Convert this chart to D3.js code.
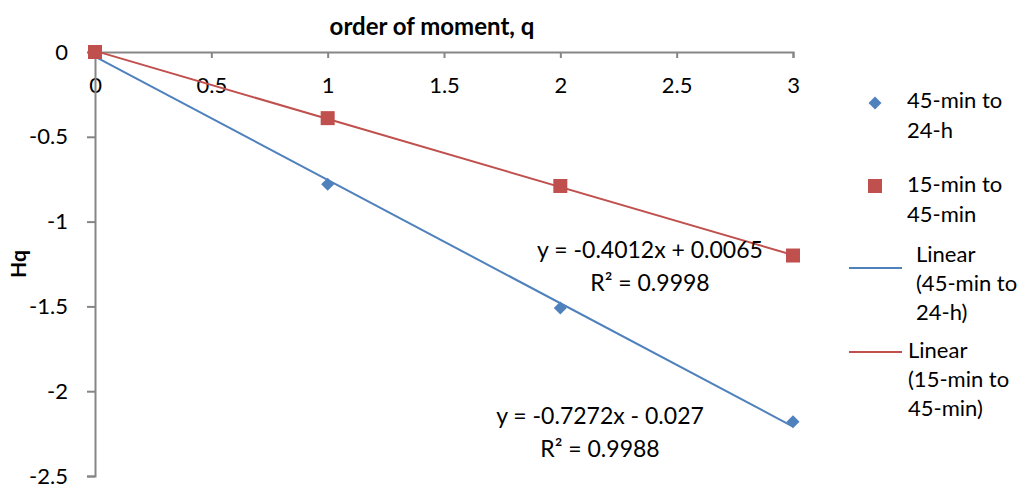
<!DOCTYPE html>
<html>
<head>
<meta charset="utf-8">
<script src="https://cdn.jsdelivr.net/npm/d3@7"></script>
<style>
  body { margin: 0; background: #fff; }
  svg { font-family: "Lato", "Open Sans", sans-serif; }
</style>
</head>
<body>
<svg id="chart"></svg>
<script>
const width = 1021;
const height = 484;

// data
const qValues = [0, 1, 2, 3];
const hq45to24 = [0, -0.78, -1.51, -2.18];
const hq15to45 = [0, -0.39, -0.79, -1.2];
const fit45to24 = { slope: -0.7272, intercept: -0.027, r2: "0.9988" };
const fit15to45 = { slope: -0.4012, intercept: 0.0065, r2: "0.9998" };
const xTicks = [0, 0.5, 1, 1.5, 2, 2.5, 3];
const yTicks = [0, -0.5, -1, -1.5, -2, -2.5];

const blue = "#4F81BD";
const red = "#C0504D";
const axisColor = "#868686";

const svg = d3.select("#chart").attr("width", width).attr("height", height);

const x = d3.scaleLinear().domain([0, 3]).range([95, 793]);
const y = d3.scaleLinear().domain([-2.5, 0]).range([476, 52]);

// x axis (sits at y = 0, ticks point down)
const xAxis = svg.append("g")
  .attr("transform", `translate(0, ${y(0)})`)
  .call(d3.axisBottom(x).tickValues(xTicks).tickSize(6).tickPadding(19).tickFormat(d3.format("")));
xAxis.select(".domain").attr("stroke", axisColor).attr("stroke-width", 2);
xAxis.selectAll(".tick line").attr("stroke", axisColor).attr("stroke-width", 2);
xAxis.selectAll("text").attr("font-size", 22).attr("fill", "#000").attr("font-family", "Lato");

// y axis
const yAxis = svg.append("g")
  .attr("transform", `translate(${x(0)}, 0)`)
  .call(d3.axisLeft(y).tickValues(yTicks).tickSize(8).tickPadding(19).tickFormat(d3.format("")));
yAxis.select(".domain").attr("stroke", axisColor).attr("stroke-width", 2);
yAxis.selectAll(".tick line").attr("stroke", axisColor).attr("stroke-width", 2);
yAxis.selectAll("text").attr("font-size", 22).attr("fill", "#000").attr("font-family", "Lato")
  .text(d => String(d));

// titles
svg.append("text")
  .attr("x", 432).attr("y", 35)
  .attr("text-anchor", "middle")
  .attr("font-size", 24).attr("font-weight", "bold")
  .text("order of moment, q");

svg.append("text")
  .attr("transform", "translate(26, 264) rotate(-90)")
  .attr("text-anchor", "middle")
  .attr("font-size", 21).attr("font-weight", "bold")
  .text("Hq");

// trend lines
const line = d3.line().x(d => x(d[0])).y(d => y(d[1]));
[[fit45to24, blue], [fit15to45, red]].forEach(([f, c]) => {
  const pts = [0, 3].map(q => [q, f.slope * q + f.intercept]);
  svg.append("path").attr("d", line(pts)).attr("fill", "none")
    .attr("stroke", c).attr("stroke-width", 2);
});

// markers
const diamond = "M-4.6,-4.6H4.6V4.6H-4.6Z";
svg.selectAll(".diamond")
  .data(qValues.map((q, i) => [q, hq45to24[i]]))
  .enter().append("path")
  .attr("class", "diamond")
  .attr("transform", d => `translate(${x(d[0])}, ${y(d[1])}) rotate(45)`)
  .attr("d", diamond)
  .attr("fill", blue);

svg.selectAll(".square")
  .data(qValues.map((q, i) => [q, hq15to45[i]]))
  .enter().append("rect")
  .attr("class", "square")
  .attr("x", d => x(d[0]) - 7).attr("y", d => y(d[1]) - 7)
  .attr("width", 14).attr("height", 14)
  .attr("fill", red);

// equation labels
function eqLabel(cx, cy, f) {
  const sign = f.intercept < 0 ? "-" : "+";
  const g = svg.append("g").attr("font-size", 23).attr("text-anchor", "middle");
  g.append("text").attr("x", cx).attr("y", cy)
    .text(`y = ${f.slope}x ${sign} ${Math.abs(f.intercept)}`);
  g.append("text").attr("x", cx).attr("y", cy + 33)
    .text(`R² = ${f.r2}`);
}
eqLabel(650, 258, fit15to45);
eqLabel(600, 424, fit45to24);

// legend
const legend = svg.append("g").attr("font-size", 22);
legend.append("path")
  .attr("transform", "translate(875, 103) rotate(45)")
  .attr("d", diamond).attr("fill", blue);
legend.append("rect").attr("x", 868).attr("y", 179).attr("width", 14).attr("height", 14).attr("fill", red);
legend.append("line").attr("x1", 849).attr("x2", 902).attr("y1", 268).attr("y2", 268)
  .attr("stroke", blue).attr("stroke-width", 2);
legend.append("line").attr("x1", 849).attr("x2", 902).attr("y1", 352).attr("y2", 352)
  .attr("stroke", red).attr("stroke-width", 2);

const legendText = [
  [907, 108, "45-min to"], [907, 138, "24-h"],
  [907, 192, "15-min to"], [907, 222, "45-min"],
  [916, 262, "Linear"], [916, 291, "(45-min to"], [916, 320, "24-h)"],
  [908, 358, "Linear"], [908, 387, "(15-min to"], [908, 416, "45-min)"]
];
legend.selectAll("text").data(legendText).enter().append("text")
  .attr("x", d => d[0]).attr("y", d => d[1]).text(d => d[2]);
</script>
</body>
</html>
